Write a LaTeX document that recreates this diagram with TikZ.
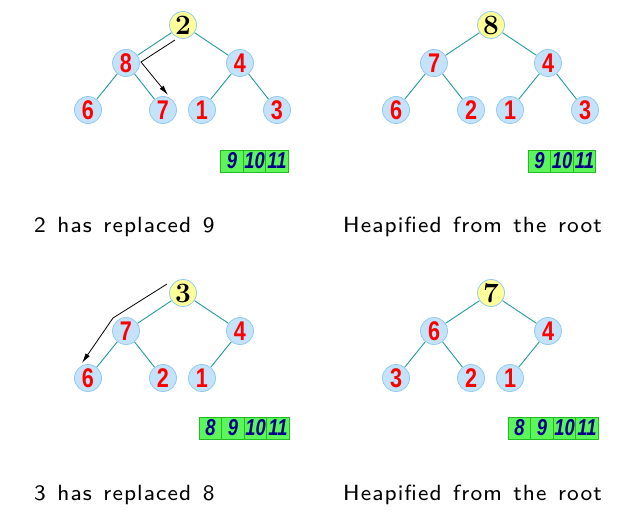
\documentclass[tikz,border=0pt]{standalone}
\usepackage{fontspec}
\usetikzlibrary{positioning,arrows.meta}
\newfontfamily\keyfont[FakeStretch=0.8]{Liberation Sans}
\newfontfamily\capfont[WordSpace=1.3,LetterSpace=5]{lmsans8-regular.otf}
\definecolor{nodefill}{HTML}{C4E3FA}
\definecolor{nodeline}{HTML}{92CBF0}
\definecolor{rootfill}{HTML}{FFFF99}
\definecolor{linkteal}{HTML}{1E9C9C}
\definecolor{cellfill}{HTML}{5CF55C}
\definecolor{cellline}{HTML}{22BB22}
\definecolor{cellblue}{HTML}{000088}
\tikzset{
  heapnode/.style={circle, draw=nodeline, fill=nodefill, line width=0.8pt,
    minimum size=27pt, inner sep=0pt, text=red,
    font=\keyfont\bfseries\fontsize{27}{27}\selectfont},
  rootnode/.style={heapnode, fill=rootfill, text=black,
    font=\bfseries\fontsize{28}{28}\selectfont},
  link/.style={draw=linkteal, line width=0.9pt},
  cell/.style={draw=cellline, fill=cellfill, line width=0.8pt,
    minimum width=22.5pt, minimum height=22pt, inner sep=0pt, outer sep=0pt,
    text=cellblue, font=\keyfont\bfseries\itshape\fontsize{23}{23}\selectfont},
  move/.style={-{Latex[length=10pt,width=5pt]}, line width=0.8pt},
  caption/.style={anchor=base west, inner sep=0pt,
    font=\capfont\fontsize{22}{22}\selectfont}
}
\begin{document}
\begin{tikzpicture}[x=1pt,y=-1pt]
    \useasboundingbox (0,0) rectangle (620,524);

    % Panel 1: 2 moved to the root
    \node[rootnode] (a2) at (183,25) {2};
    \node[heapnode] (a8) at (126,63) {8};
    \node[heapnode] (a4) at (240,63) {4};
    \node[heapnode] (a6) at (88,110) {6};
    \node[heapnode] (a7) at (163,110) {7};
    \node[heapnode] (a1) at (202,110) {1};
    \node[heapnode] (a3) at (277,110) {3};
    \draw[link] (a2) -- (a8);
    \draw[link] (a2) -- (a4);
    \draw[link] (a8) -- (a6);
    \draw[link] (a8) -- (a7);
    \draw[link] (a4) -- (a1);
    \draw[link] (a4) -- (a3);
    \coordinate (as) at (175,40);
    \coordinate (ak) at (141,62);
    \coordinate (ae) at (168,95);
    \draw[move] (as) -- (ak) -- (ae);
    % sorted part
    \node[cell] (ac9) at (232,161) {9};
    \node[cell, right=0pt of ac9] (ac10) {10};
    \node[cell, right=0pt of ac10] (ac11) {11};
    \node[caption] (acap) at (34,232) {2 has replaced 9};

    % Panel 2: heapified
    \begin{scope}[xshift=308pt]
    \node[rootnode] (b8) at (183,25) {8};
    \node[heapnode] (b7) at (126,63) {7};
    \node[heapnode] (b4) at (240,63) {4};
    \node[heapnode] (b6) at (88,110) {6};
    \node[heapnode] (b2) at (163,110) {2};
    \node[heapnode] (b1) at (202,110) {1};
    \node[heapnode] (b3) at (277,110) {3};
    \draw[link] (b8) -- (b7);
    \draw[link] (b8) -- (b4);
    \draw[link] (b7) -- (b6);
    \draw[link] (b7) -- (b2);
    \draw[link] (b4) -- (b1);
    \draw[link] (b4) -- (b3);
    \node[cell] (bc9) at (231.5,161) {9};
    \node[cell, right=0pt of bc9] (bc10) {10};
    \node[cell, right=0pt of bc10] (bc11) {11};
    \node[caption] (bcap) at (35,232) {Heapified from the root};
    \end{scope}

    % Panel 3: 3 moved to the root
    \begin{scope}[yshift=-268pt]
    \node[rootnode] (c3) at (183,25) {3};
    \node[heapnode] (c7) at (126,63) {7};
    \node[heapnode] (c4) at (240,63) {4};
    \node[heapnode] (c6) at (88,110) {6};
    \node[heapnode] (c2) at (163,110) {2};
    \node[heapnode] (c1) at (202,110) {1};
    \draw[link] (c3) -- (c7);
    \draw[link] (c3) -- (c4);
    \draw[link] (c7) -- (c6);
    \draw[link] (c7) -- (c2);
    \draw[link] (c4) -- (c1);
    \coordinate (cs) at (167,16);
    \coordinate (ck) at (113,50);
    \coordinate (ce) at (82,95);
    \draw[move] (cs) -- (ck) -- (ce);
    \node[cell] (cc8) at (210.5,160) {8};
    \node[cell, right=0pt of cc8] (cc9) {9};
    \node[cell, right=0pt of cc9] (cc10) {10};
    \node[cell, right=0pt of cc10] (cc11) {11};
    \node[caption] (ccap) at (34,232) {3 has replaced 8};
    \end{scope}

    % Panel 4: heapified
    \begin{scope}[xshift=308pt,yshift=-268pt]
    \node[rootnode] (d7) at (183,25) {7};
    \node[heapnode] (d6) at (126,63) {6};
    \node[heapnode] (d4) at (240,63) {4};
    \node[heapnode] (d3) at (88,110) {3};
    \node[heapnode] (d2) at (163,110) {2};
    \node[heapnode] (d1) at (202,110) {1};
    \draw[link] (d7) -- (d6);
    \draw[link] (d7) -- (d4);
    \draw[link] (d6) -- (d3);
    \draw[link] (d6) -- (d2);
    \draw[link] (d4) -- (d1);
    \node[cell] (dc8) at (211.5,160) {8};
    \node[cell, right=0pt of dc8] (dc9) {9};
    \node[cell, right=0pt of dc9] (dc10) {10};
    \node[cell, right=0pt of dc10] (dc11) {11};
    \node[caption] (dcap) at (35,232) {Heapified from the root};
    \end{scope}
\end{tikzpicture}
\end{document}
